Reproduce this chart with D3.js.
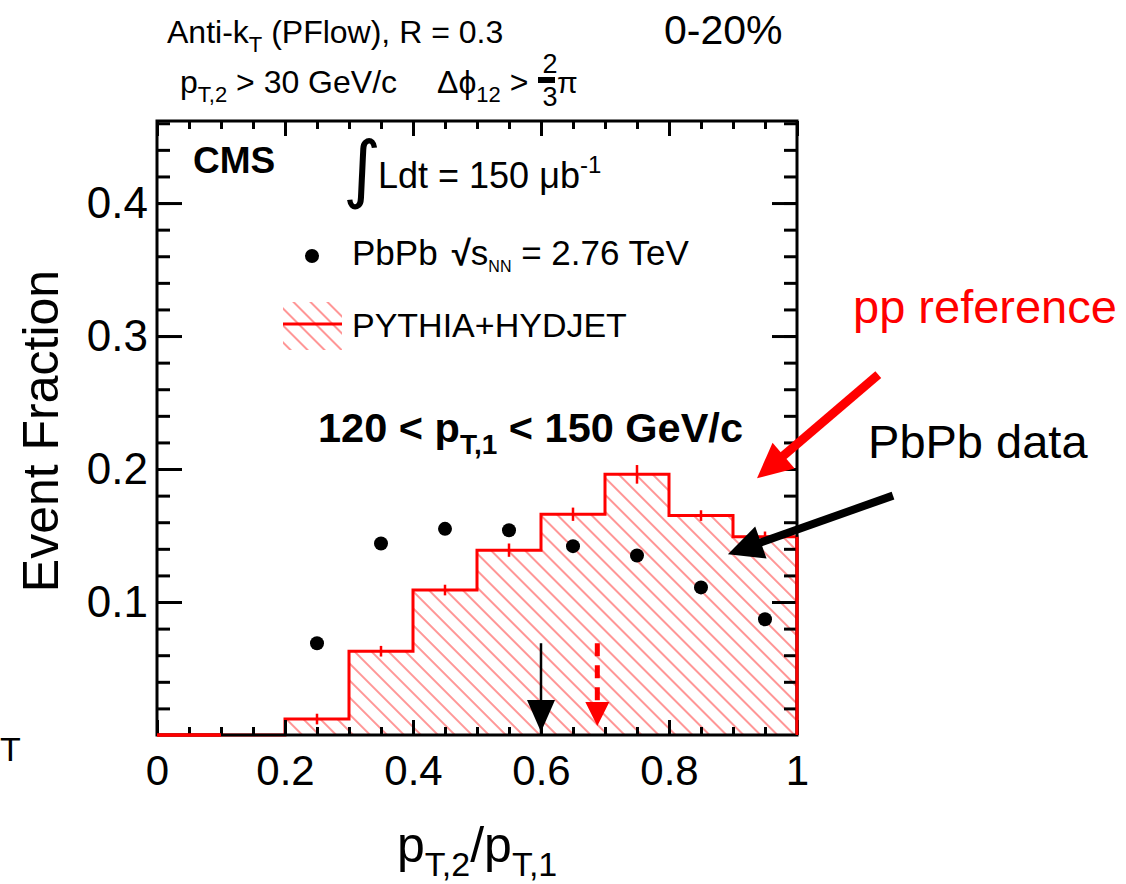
<!DOCTYPE html>
<html>
<head>
<meta charset="utf-8">
<script src="https://cdn.jsdelivr.net/npm/d3@7"></script>
<style>
  body { margin: 0; background: #fff; }
  text { font-family: "Liberation Sans", Arial, Helvetica, sans-serif; }
</style>
</head>
<body>
<div id="chart"></div>
<script>
// histogram bins (PYTHIA+HYDJET reference), lower edges, width 0.1
const binLo = [0, 0.1, 0.2, 0.3, 0.4, 0.5, 0.6, 0.7, 0.8, 0.9];
const mcValues = [0, 0, 0.012, 0.063, 0.109, 0.139, 0.166, 0.196, 0.165, 0.149];
const mcErrors = [0, 0, 0.004, 0.004, 0.004, 0.005, 0.005, 0.007, 0.004, 0.004];

// PbPb data points
const dataX = [0.25, 0.35, 0.45, 0.55, 0.65, 0.75, 0.85, 0.95];
const dataValues = [0.069, 0.144, 0.155, 0.154, 0.142, 0.135, 0.111, 0.087];

// mean values (arrows)
const meanData = 0.60;
const meanMC = 0.688;
const meanArrowTop = 0.069;

// tick labels
const xTicks = [0, 0.2, 0.4, 0.6, 0.8, 1];
const yTicks = [0.1, 0.2, 0.3, 0.4];

var width = 1126, height = 884;
var frame = { left: 157, right: 797, top: 121, bottom: 735 };

const x = d3.scaleLinear().domain([0, 1]).range([frame.left, frame.right]);
const y = d3.scaleLinear().domain([0, 0.4617]).range([frame.bottom, frame.top]);

var svg = d3.select("#chart").append("svg")
  .attr("width", width)
  .attr("height", height);

svg.append("rect").attr("width", width).attr("height", height).attr("fill", "#fff");

// hatch pattern
const defs = svg.append("defs");
defs.append("pattern")
  .attr("id", "hatch")
  .attr("patternUnits", "userSpaceOnUse")
  .attr("width", 12).attr("height", 12)
  .attr("patternTransform", "rotate(-45)")
  .append("line")
  .attr("x1", 6).attr("y1", 0).attr("x2", 6).attr("y2", 12)
  .attr("stroke", "#ff4040").attr("stroke-width", 1.1);

// histogram outline
function histPath() {
  const p = d3.path();
  p.moveTo(x(binLo[0]), y(0));
  binLo.forEach((lo, i) => {
    p.lineTo(x(lo), y(mcValues[i]));
    p.lineTo(x(lo + 0.1), y(mcValues[i]));
  });
  p.lineTo(x(1), y(0));
  return p.toString();
}

svg.append("path")
  .attr("d", histPath() + "Z")
  .attr("fill", "url(#hatch)")
  .attr("stroke", "none");

svg.append("path")
  .attr("d", histPath())
  .attr("fill", "none")
  .attr("stroke", "#ff0000")
  .attr("stroke-width", 3);

// error bars on histogram
svg.selectAll(".mcerr")
  .data(binLo.map((lo, i) => ({ c: lo + 0.05, v: mcValues[i], e: mcErrors[i] })).filter(d => d.e > 0))
  .join("line")
  .attr("class", "mcerr")
  .attr("x1", d => x(d.c)).attr("x2", d => x(d.c))
  .attr("y1", d => y(d.v + d.e)).attr("y2", d => y(d.v - d.e))
  .attr("stroke", "#ff0000").attr("stroke-width", 2.5);

// axes
function styleAxis(g) {
  g.select(".domain").remove();
  g.selectAll(".tick line").attr("stroke", "#000").attr("stroke-width", 3);
  g.selectAll("text").attr("fill", "#000")
    .style("font-family", '"Liberation Sans", Arial, sans-serif');
}

const xMinor = d3.range(0, 21).map(i => i * 0.05);
const yMinor = d3.range(1, 24).map(i => i * 0.02).filter(v => v < 0.461);
const yMajor = [0.1, 0.2, 0.3, 0.4];

const fmtX = d => (d === 0 ? "0" : d === 1 ? "1" : d.toFixed(1));

// bottom
svg.append("g").attr("transform", `translate(0,${frame.bottom})`)
  .call(d3.axisBottom(x).tickValues(xMinor).tickSize(-8).tickFormat(""))
  .call(styleAxis);
svg.append("g").attr("transform", `translate(0,${frame.bottom})`)
  .call(d3.axisBottom(x).tickValues(xTicks).tickSize(-15).tickPadding(20).tickFormat(fmtX))
  .call(styleAxis)
  .call(g => g.selectAll("text").attr("font-size", 42));
// top
svg.append("g").attr("transform", `translate(0,${frame.top})`)
  .call(d3.axisTop(x).tickValues(xMinor).tickSize(-8).tickFormat(""))
  .call(styleAxis);
svg.append("g").attr("transform", `translate(0,${frame.top})`)
  .call(d3.axisTop(x).tickValues(xTicks).tickSize(-15).tickFormat(""))
  .call(styleAxis);
// left
svg.append("g").attr("transform", `translate(${frame.left},0)`)
  .call(d3.axisLeft(y).tickValues(yMinor).tickSize(-13).tickFormat(""))
  .call(styleAxis);
svg.append("g").attr("transform", `translate(${frame.left},0)`)
  .call(d3.axisLeft(y).tickValues(yTicks).tickSize(-25).tickPadding(9).tickFormat(d3.format(".1f")))
  .call(styleAxis)
  .call(g => g.selectAll("text").attr("font-size", 44));
// right
svg.append("g").attr("transform", `translate(${frame.right},0)`)
  .call(d3.axisRight(y).tickValues(yMinor).tickSize(-13).tickFormat(""))
  .call(styleAxis);
svg.append("g").attr("transform", `translate(${frame.right},0)`)
  .call(d3.axisRight(y).tickValues(yMajor).tickSize(-25).tickFormat(""))
  .call(styleAxis);

// frame
svg.append("rect")
  .attr("x", frame.left).attr("y", frame.top)
  .attr("width", frame.right - frame.left).attr("height", frame.bottom - frame.top)
  .attr("fill", "none").attr("stroke", "#000").attr("stroke-width", 3);

// first empty bin is drawn over the axis in red
svg.append("line")
  .attr("x1", x(binLo[0])).attr("x2", x(binLo[1]))
  .attr("y1", y(mcValues[0])).attr("y2", y(mcValues[0]))
  .attr("stroke", "#ff0000").attr("stroke-width", 3.5);
// right edge of the last bin
svg.append("line")
  .attr("x1", x(1)).attr("x2", x(1))
  .attr("y1", y(mcValues[9])).attr("y2", y(0))
  .attr("stroke", "#ff0000").attr("stroke-width", 3);

// data points
svg.selectAll(".pt")
  .data(dataX.map((d, i) => ({ x: d, v: dataValues[i] })))
  .join("circle")
  .attr("class", "pt")
  .attr("cx", d => x(d.x)).attr("cy", d => y(d.v))
  .attr("r", 7).attr("fill", "#000");

// mean arrows
svg.append("line")
  .attr("x1", x(meanData)).attr("x2", x(meanData))
  .attr("y1", y(meanArrowTop)).attr("y2", y(0))
  .attr("stroke", "#000").attr("stroke-width", 2.5);
svg.append("path")
  .attr("d", `M${x(meanData) - 14},${y(0) - 35} L${x(meanData) + 14},${y(0) - 35} L${x(meanData)},${y(0) - 3} Z`)
  .attr("fill", "#000");

svg.append("line")
  .attr("x1", x(meanMC)).attr("x2", x(meanMC))
  .attr("y1", y(meanArrowTop)).attr("y2", y(0) - 20)
  .attr("stroke", "#ff0000").attr("stroke-width", 5)
  .attr("stroke-dasharray", "13,9");
svg.append("path")
  .attr("d", `M${x(meanMC) - 12},${y(0) - 33} L${x(meanMC) + 12},${y(0) - 33} L${x(meanMC)},${y(0) - 9} Z`)
  .attr("fill", "#ff0000");

// annotation arrows (data coordinates)
const annotations = [
  { text: "pp reference", color: "#ff0000", tx: 1.0875, ty: 0.31, x0: 1.127, y0: 0.271, x1: 0.9375, y1: 0.193, w: 9 },
  { text: "PbPb data", color: "#000", tx: 1.111, ty: 0.208, x0: 1.15, y0: 0.180, x1: 0.892, y1: 0.136, w: 8 }
];

annotations.forEach(a => {
  const sx = x(a.x0), sy = y(a.y0), ex = x(a.x1), ey = y(a.y1);
  const ang = Math.atan2(ey - sy, ex - sx);
  const hl = 35, hw = 17;
  const bx = ex - hl * Math.cos(ang), by = ey - hl * Math.sin(ang);
  svg.append("line")
    .attr("x1", sx).attr("y1", sy).attr("x2", bx + 4 * Math.cos(ang)).attr("y2", by + 4 * Math.sin(ang))
    .attr("stroke", a.color).attr("stroke-width", a.w);
  svg.append("path")
    .attr("d", `M${ex},${ey} L${bx - hw * Math.sin(ang)},${by + hw * Math.cos(ang)} L${bx + hw * Math.sin(ang)},${by - hw * Math.cos(ang)} Z`)
    .attr("fill", a.color);
  svg.append("text")
    .attr("x", x(a.tx)).attr("y", y(a.ty))
    .attr("font-size", 47).attr("fill", a.color)
    .text(a.text);
});

// header
var t1 = svg.append("text").attr("x", 167).attr("y", 43).attr("font-size", 32);
t1.append("tspan").text("Anti-k");
t1.append("tspan").attr("font-size", 22).attr("dy", 9).text("T");
t1.append("tspan").attr("dy", -9).text(" (PFlow), R = 0.3");

svg.append("text").attr("x", 664).attr("y", 44).attr("font-size", 41).text("0-20%");

var t2 = svg.append("text").attr("x", 180).attr("y", 93).attr("font-size", 32);
t2.append("tspan").text("p");
t2.append("tspan").attr("font-size", 22).attr("dy", 9).text("T,2");
t2.append("tspan").attr("dy", -9).text(" > 30 GeV/c");

var t3 = svg.append("text").attr("x", 437).attr("y", 93).attr("font-size", 32);
t3.append("tspan").text("Δϕ");
t3.append("tspan").attr("font-size", 22).attr("dy", 9).text("12");
t3.append("tspan").attr("dy", -9).text(" >");

svg.append("text").attr("x", 550).attr("y", 73).attr("font-size", 27).attr("text-anchor", "middle").text("2");
svg.append("rect").attr("x", 538).attr("y", 77).attr("width", 17).attr("height", 6).attr("fill", "#000");
svg.append("text").attr("x", 550).attr("y", 106).attr("font-size", 27).attr("text-anchor", "middle").text("3");
svg.append("text").attr("x", 557).attr("y", 93).attr("font-size", 30).text("π");

// inside labels
svg.append("text").attr("x", 193).attr("y", 173).attr("font-size", 37).attr("font-weight", "bold").text("CMS");

svg.append("text").attr("x", 343).attr("y", 194).attr("font-size", 74)
  .style("font-family", '"DejaVu Sans", sans-serif').text("∫");
var lum = svg.append("text").attr("x", 378).attr("y", 188).attr("font-size", 36);
lum.append("tspan").text("Ldt = 150 μb");
lum.append("tspan").attr("font-size", 24).attr("dy", -15).text("-1");

// legend
svg.append("circle").attr("cx", 312).attr("cy", 256).attr("r", 7).attr("fill", "#000");
var lg1 = svg.append("text").attr("x", 352).attr("y", 265).attr("font-size", 35);
lg1.append("tspan").text("PbPb");
lg1.append("tspan").attr("dx", 14).attr("font-weight", "bold").text("√");
lg1.append("tspan").text("s");
lg1.append("tspan").attr("font-size", 16).attr("dy", 7).text("NN");
lg1.append("tspan").attr("dy", -7).text(" = 2.76 TeV");

svg.append("rect").attr("x", 283).attr("y", 302).attr("width", 59).attr("height", 48)
  .attr("fill", "url(#hatch)");
svg.append("line").attr("x1", 283).attr("x2", 342).attr("y1", 324).attr("y2", 324)
  .attr("stroke", "#ff0000").attr("stroke-width", 3);
svg.append("text").attr("x", 352).attr("y", 337).attr("font-size", 34).text("PYTHIA+HYDJET");

var sel = svg.append("text").attr("x", 318).attr("y", 442).attr("font-size", 41.5).attr("font-weight", "bold");
sel.append("tspan").text("120 < p");
sel.append("tspan").attr("font-size", 28).attr("dy", 12).text("T,1");
sel.append("tspan").attr("dy", -12).text(" < 150 GeV/c");

// axis titles
var xt = svg.append("text").attr("x", 397).attr("y", 862).attr("font-size", 50);
xt.append("tspan").text("p");
xt.append("tspan").attr("font-size", 34).attr("dy", 14).text("T,2");
xt.append("tspan").attr("dy", -14).text("/p");
xt.append("tspan").attr("font-size", 34).attr("dy", 14).text("T,1");

svg.append("text")
  .attr("transform", "translate(58,431) rotate(-90)")
  .attr("text-anchor", "middle")
  .attr("font-size", 50)
  .text("Event Fraction");

// stray cropped letter at the left edge
svg.append("text").attr("x", 0).attr("y", 761).attr("font-size", 34).text("T");
</script>
</body>
</html>
